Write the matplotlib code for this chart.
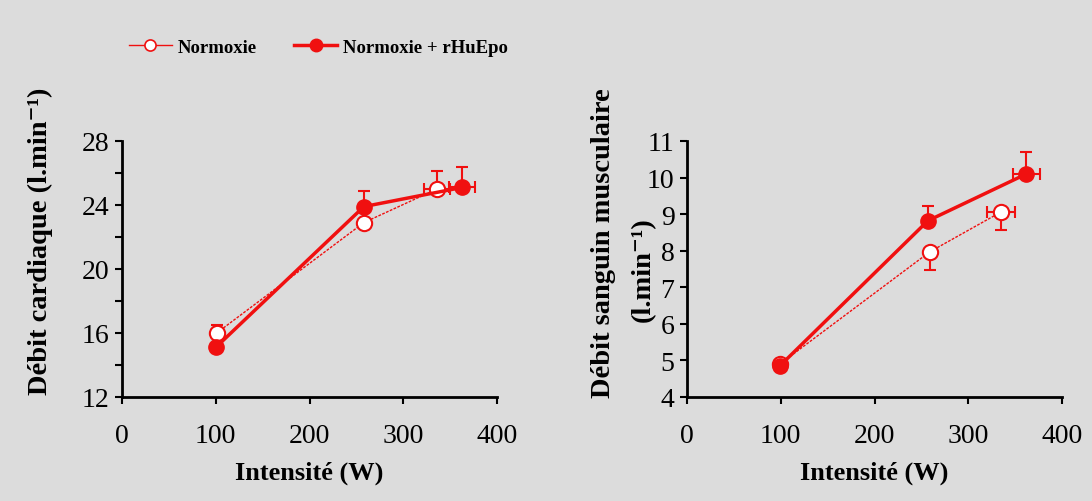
import matplotlib
matplotlib.use("Agg")
import matplotlib.pyplot as plt
from matplotlib.lines import Line2D

# ---- data ----
x_norm_cd = [101, 258, 336]
y_norm_cd = [16.0, 22.9, 25.0]
yerr_norm_cd_up = [0.5, 0.0, 1.1]
xerr_norm_cd = [0, 0, 14]

x_epo_cd = [100, 258, 363]
y_epo_cd = [15.1, 23.9, 25.1]
yerr_epo_cd_up = [0.0, 1.0, 1.3]
xerr_epo_cd = [0, 0, 14]

x_norm_sm = [99, 259, 335]
y_norm_sm = [4.9, 7.97, 9.06]
yerr_norm_sm_dn = [0.0, 0.5, 0.5]
xerr_norm_sm = [0, 0, 15]

x_epo_sm = [99, 257, 362]
y_epo_sm = [4.85, 8.82, 10.1]
yerr_epo_sm_up = [0.0, 0.4, 0.6]
xerr_epo_sm = [0, 0, 14]

xticks = [0, 100, 200, 300, 400]
yticks_cd = [12, 16, 20, 24, 28]
yminor_cd = [14, 18, 22, 26]
yticks_sm = [4, 5, 6, 7, 8, 9, 10, 11]

RED = "#f01010"
BG = "#dcdcdc"
SERIF = ["Liberation Serif", "DejaVu Serif"]

plt.rcParams["font.family"] = SERIF

fig = plt.figure(figsize=(10.92, 5.02), dpi=100, facecolor=BG)
ax1 = fig.add_axes([122/1092, 1-398/502, (497-122)/1092, (398-142)/502])
ax2 = fig.add_axes([687/1092, 1-398/502, (1062-687)/1092, (398-142)/502])


def style(ax, yt, ylim):
    ax.set_facecolor(BG)
    for s in ["top", "right"]:
        ax.spines[s].set_visible(False)
    for s in ["left", "bottom"]:
        ax.spines[s].set_linewidth(2)
        ax.spines[s].set_color("black")
    ax.set_xlim(0, 400)
    ax.set_ylim(*ylim)
    ax.set_xticks(xticks)
    ax.set_yticks(yt)
    ax.tick_params(direction="out", length=5, width=1.5, labelsize=20, colors="black")
    ax.tick_params(axis="x", pad=14)
    ax.tick_params(axis="y", pad=4)
    ax.tick_params(axis="y", which="minor", direction="out", length=5, width=1.5)
    ax.set_xlabel("Intensité (W)", fontsize=19, fontweight="bold", labelpad=9)


def series(ax, x, y, yerr, xerr, filled):
    if filled:
        ax.errorbar(x, y, yerr=yerr, xerr=xerr, color=RED, ecolor=RED, elinewidth=1.5,
                    capsize=4, capthick=1.5, lw=2.5, ls="-", marker="o", ms=11,
                    mfc=RED, mec=RED, zorder=4)
    else:
        ax.errorbar(x, y, yerr=yerr, xerr=xerr, color=RED, ecolor=RED, elinewidth=1.5,
                    capsize=4, capthick=1.5, lw=1, ls=(0, (2, 1)), marker="o", ms=11,
                    mfc="white", mec=RED, mew=1.5, zorder=3)


style(ax1, yticks_cd, (12, 28))
ax1.set_yticks(yminor_cd, minor=True)
series(ax1, x_norm_cd, y_norm_cd, [[0, 0, 0], yerr_norm_cd_up], xerr_norm_cd, False)
series(ax1, x_epo_cd, y_epo_cd, [[0, 0, 0], yerr_epo_cd_up], xerr_epo_cd, True)

style(ax2, yticks_sm, (4, 11))
series(ax2, x_norm_sm, y_norm_sm, [yerr_norm_sm_dn, [0, 0, 0]], xerr_norm_sm, False)
series(ax2, x_epo_sm, y_epo_sm, [[0, 0, 0], yerr_epo_sm_up], xerr_epo_sm, True)

# y labels
fig.text(40/1092, 1-241/502, "Débit cardiaque (l.min⁻¹)", rotation=90, ha="center", va="center",
         fontsize=20.5, fontweight="bold")
fig.text(603/1092, 1-243/502, "Débit sanguin musculaire", rotation=90, ha="center", va="center",
         fontsize=20.5, fontweight="bold")
fig.text(643/1092, 1-270/502, "(l.min⁻¹)", rotation=90, ha="center", va="center",
         fontsize=20.5, fontweight="bold")

# legend
h1 = Line2D([], [], color=RED, lw=1, marker="o", ms=8, mfc="white", mec=RED, mew=1.2)
h2 = Line2D([], [], color=RED, lw=2.5, marker="o", ms=9, mfc=RED, mec=RED)
fig.legend([h1, h2], ["Normoxie", "Normoxie + rHuEpo"], loc="center left",
           bbox_to_anchor=(112/1092, 1-48/502), ncol=2, frameon=False,
           prop={"family": SERIF, "weight": "bold", "size": 13.5},
           handlelength=2.3, handletextpad=0.3, columnspacing=2.0)

fig.savefig("out.png", dpi=100, facecolor=BG)
